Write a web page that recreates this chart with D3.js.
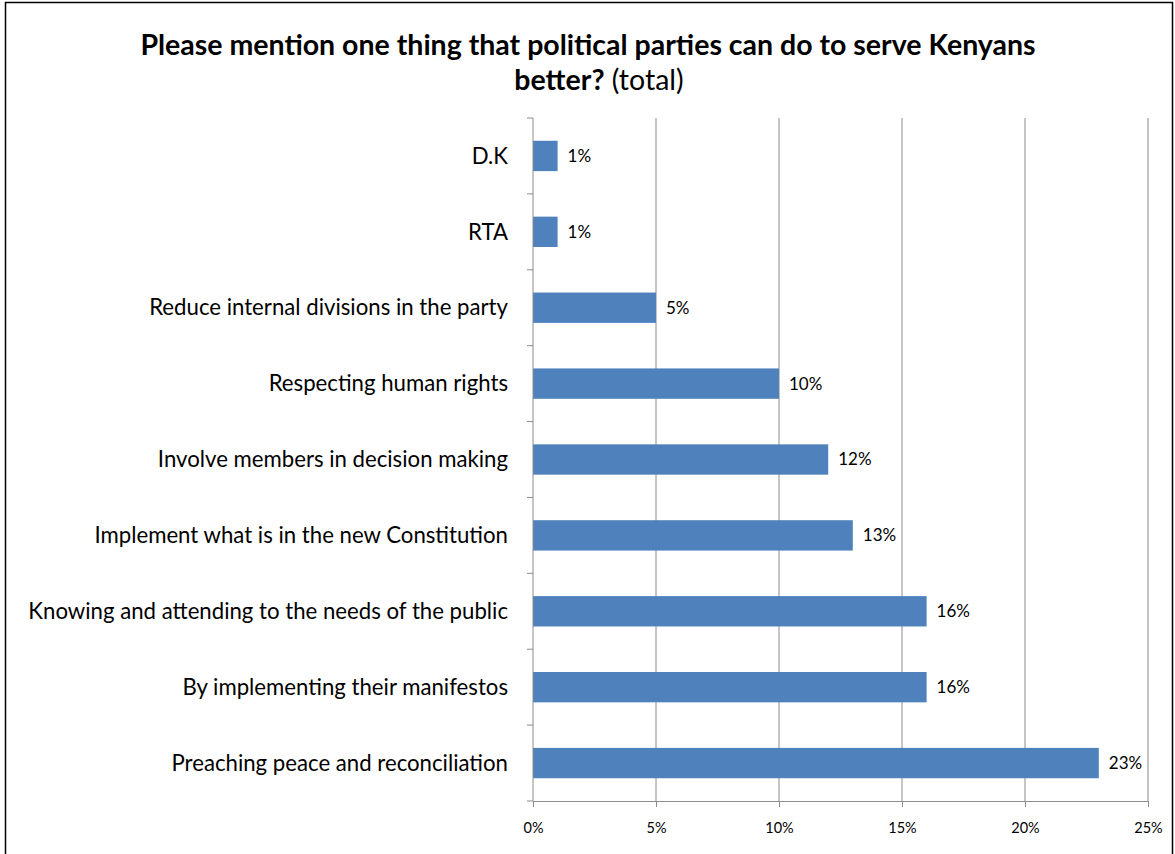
<!DOCTYPE html>
<html>
<head>
<meta charset="utf-8">
<script src="https://cdn.jsdelivr.net/npm/d3@7"></script>
<style>
  body { margin: 0; background: #fff; }
  svg { font-family: Lato, "Open Sans", sans-serif; }
</style>
</head>
<body>
<div class="render"></div>
<script>
'use strict';

// categories top to bottom, values in percent
var categories = [
   'D.K',
   'RTA',
   'Reduce internal divisions in the party',
   'Respecting human rights',
   'Involve members in decision making',
   'Implement what is in the new Constitution',
   'Knowing and attending to the needs of the public',
   'By implementing their manifestos',
   'Preaching peace and reconciliation'
];
var values = [1, 1, 5, 10, 12, 13, 16, 16, 23];
var ticks = [0, 5, 10, 15, 20, 25];

function draw() {
   var w = 1175;
   var h = 854;
   var x0 = 533, x1 = 1148, y0 = 118, y1 = 801;

   var svg = d3.select('.render').append('svg').attr('width', w).attr('height', h);

   // chart border
   svg.append('rect').attr('x', 5.5).attr('y', 2.5).attr('width', 1167).attr('height', 870)
      .attr('fill', 'none').attr('stroke', '#000').attr('stroke-width', 1.5);

   var xScale = d3.scaleLinear().domain([0, 25]).range([x0, x1]);
   var yScale = d3.scaleBand().domain(categories).range([y0, y1]).paddingInner(0.6).paddingOuter(0.3);

   // gridlines
   svg.append('g').selectAll('line').data(ticks.slice(1)).enter().append('line')
      .attr('x1', function (d) { return xScale(d); })
      .attr('x2', function (d) { return xScale(d); })
      .attr('y1', y0).attr('y2', y1)
      .attr('stroke', '#8c8c8c').attr('stroke-width', 1);

   // bars
   svg.selectAll('rect.bar').data(values).enter().append('rect')
      .attr('class', 'bar')
      .attr('x', xScale(0))
      .attr('y', function (d, i) { return yScale(categories[i]); })
      .attr('width', function (d) { return xScale(d) - xScale(0); })
      .attr('height', yScale.bandwidth())
      .attr('fill', '#4f81bd');

   // value labels
   svg.selectAll('text.val').data(values).enter().append('text')
      .attr('class', 'val')
      .attr('x', function (d) { return xScale(d) + 10; })
      .attr('y', function (d, i) { return yScale(categories[i]) + yScale.bandwidth() / 2; })
      .attr('dy', '0.35em')
      .style('font-size', '17px')
      .text(function (d) { return d + '%'; });

   // x axis
   var xAxis = d3.axisBottom(xScale).tickValues(ticks).tickSize(6).tickPadding(16)
      .tickFormat(function (d) { return d + '%'; });
   var gx = svg.append('g').attr('transform', 'translate(0,' + y1 + ')').call(xAxis);
   gx.select('.domain').attr('stroke', '#8c8c8c');
   gx.selectAll('.tick line').attr('stroke', '#8c8c8c');
   gx.selectAll('.tick text').style('font-size', '14.5px').style('font-family', 'Lato, sans-serif').attr('fill', '#000');

   // y axis (band boundaries as ticks)
   svg.append('line').attr('x1', x0).attr('x2', x0).attr('y1', y0).attr('y2', y1)
      .attr('stroke', '#8c8c8c');
   svg.append('g').selectAll('line').data(d3.range(categories.length + 1)).enter().append('line')
      .attr('x1', x0 - 6).attr('x2', x0)
      .attr('y1', function (d) { return y0 + d * yScale.step(); })
      .attr('y2', function (d) { return y0 + d * yScale.step(); })
      .attr('stroke', '#8c8c8c');

   // category labels
   svg.selectAll('text.cat').data(categories).enter().append('text')
      .attr('class', 'cat')
      .attr('x', 508)
      .attr('y', function (d) { return yScale(d) + yScale.bandwidth() / 2; })
      .attr('dy', '0.35em')
      .attr('text-anchor', 'end')
      .style('font-size', '22.2px')
      .text(function (d) { return d; });

   // title
   svg.append('text').attr('x', 588).attr('y', 55).attr('text-anchor', 'middle')
      .style('font-size', '28.5px').style('font-weight', 'bold')
      .text('Please mention one thing that political parties can do to serve Kenyans');
   var t2 = svg.append('text').attr('x', 599).attr('y', 90).attr('text-anchor', 'middle').style('font-size', '28.5px');
   t2.append('tspan').style('font-weight', 'bold').text('better?');
   t2.append('tspan').text(' (total)');
}
draw();
</script>
</body>
</html>
